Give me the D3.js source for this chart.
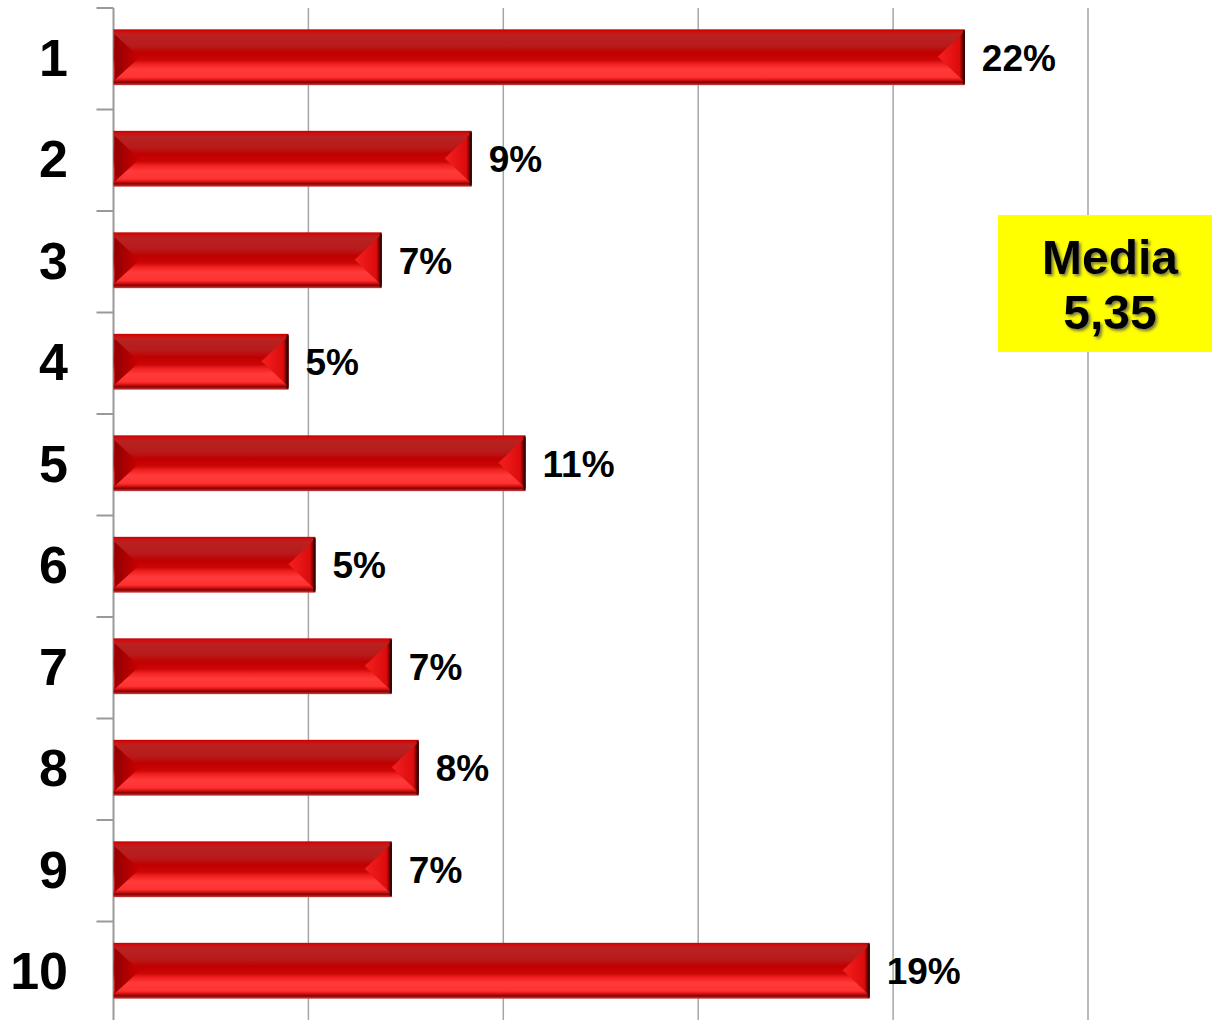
<!DOCTYPE html>
<html><head><meta charset="utf-8">
<script src="https://cdn.jsdelivr.net/npm/d3@7"></script>
<style>html,body{margin:0;padding:0;background:#fff;}svg{display:block;}</style>
</head><body>
<script>
const categories = ["1","2","3","4","5","6","7","8","9","10"];
const values = [21.84, 9.19, 6.88, 4.49, 10.57, 5.18, 7.14, 7.83, 7.14, 19.4];
const valueLabels = ["22%","9%","7%","5%","11%","5%","7%","8%","7%","19%"];
const gridTicks = [5, 10, 15, 20, 25];
const meanLines = ["Media", "5,35"];

const W = 1212, H = 1020;
const svg = d3.select("body").append("svg").attr("width", W).attr("height", H);
const defs = svg.append("defs");

const g1 = defs.append("linearGradient").attr("id","barGrad").attr("x1",0).attr("y1",0).attr("x2",0).attr("y2",1);
[[0,"#c80000"],[0.05,"#d01010"],[0.1,"#b82222"],[0.3,"#b81a1a"],[0.42,"#c00000"],[0.55,"#cc0606"],[0.62,"#f02020"],[0.72,"#ff3a3a"],[0.86,"#ff3232"],[0.9,"#e01818"],[0.95,"#8a0000"],[1,"#c84040"]]
  .forEach(([o,c]) => g1.append("stop").attr("offset",o).attr("stop-color",c));
const g2 = defs.append("linearGradient").attr("id","leftGrad").attr("x1",0).attr("y1",0).attr("x2",1).attr("y2",0);
[[0,"#900000"],[0.5,"#b00000"],[1,"#cc0000"]].forEach(([o,c]) => g2.append("stop").attr("offset",o).attr("stop-color",c));
const g3 = defs.append("linearGradient").attr("id","rightGrad").attr("x1",0).attr("y1",0).attr("x2",1).attr("y2",0);
[[0,"#f52020"],[0.8,"#dc0c0c"],[0.92,"#700000"],[1,"#300000"]].forEach(([o,c]) => g3.append("stop").attr("offset",o).attr("stop-color",c));

const sh = defs.append("filter").attr("id","tshadow").attr("x","-20%").attr("y","-20%").attr("width","140%").attr("height","140%");
sh.append("feDropShadow").attr("dx",2).attr("dy",2).attr("stdDeviation",1.5).attr("flood-color","#555").attr("flood-opacity",0.8);

const x = d3.scaleLinear().domain([0, 25]).range([113.5, 1088]);
const y = d3.scaleBand().domain(categories).range([6.5, 1021.5]).paddingInner(0.45).paddingOuter(0.225);

// gridlines
svg.append("g").selectAll("line").data(gridTicks).join("line")
  .attr("x1", d => x(d)).attr("x2", d => x(d))
  .attr("y1", 8).attr("y2", H)
  .attr("stroke", "#a6a6a6").attr("stroke-width", 1.5);

// axis line + ticks at band boundaries
const step = y.step();
const bounds = d3.range(categories.length + 1).map(i => 8 + i * step);
svg.append("line").attr("x1", x(0)).attr("x2", x(0)).attr("y1", 8).attr("y2", H)
  .attr("stroke", "#999").attr("stroke-width", 2);
svg.append("g").selectAll("line").data(bounds).join("line")
  .attr("x1", x(0) - 17).attr("x2", x(0)).attr("y1", d => d).attr("y2", d => d)
  .attr("stroke", "#999").attr("stroke-width", 2);

// category labels
svg.append("g").selectAll("text").data(categories).join("text")
  .attr("x", 68).attr("y", d => y(d) + y.bandwidth() / 2)
  .attr("dy", "0.36em").attr("text-anchor", "end")
  .attr("font-family", "Liberation Sans, Arial, sans-serif").attr("font-weight", "bold")
  .attr("font-size", 52).attr("fill", "#000").text(d => d);

// bars
const bars = svg.append("g").selectAll("g").data(categories).join("g");
const bh = y.bandwidth();
bars.append("rect")
  .attr("x", x(0)).attr("y", d => y(d))
  .attr("width", (d, i) => x(values[i]) - x(0)).attr("height", bh)
  .attr("fill", "url(#barGrad)");
bars.append("path").attr("fill", "url(#leftGrad)")
  .attr("d", d => {
    const t = y(d) + 5, b = y(d) + bh - 5, x0 = x(0) + 1;
    return `M${x0},${t} L${x0 + 25},${(t + b) / 2} L${x0},${b} Z`;
  });
bars.append("path").attr("fill", "url(#rightGrad)")
  .attr("d", (d, i) => {
    const t = y(d) + 2, b = y(d) + bh - 3, x1 = x(values[i]);
    return `M${x1},${t} L${x1 - 27},${(t + b) / 2} L${x1},${b} Z`;
  });
bars.append("line")
  .attr("x1", (d, i) => x(values[i]) - 1).attr("x2", (d, i) => x(values[i]) - 1)
  .attr("y1", d => y(d) + 1).attr("y2", d => y(d) + bh - 1)
  .attr("stroke", "#3a0000").attr("stroke-width", 2);

// value labels
svg.append("g").selectAll("text").data(categories).join("text")
  .attr("x", (d, i) => x(values[i]) + 17).attr("y", d => y(d) + bh / 2)
  .attr("dy", "0.36em")
  .attr("font-family", "Liberation Sans, Arial, sans-serif").attr("font-weight", "bold")
  .attr("font-size", 37).attr("fill", "#000").text((d, i) => valueLabels[i]);

// mean box
const box = svg.append("g");
box.append("rect").attr("x", 998).attr("y", 215).attr("width", 220).attr("height", 137).attr("fill", "#ffff00");
box.selectAll("text").data(meanLines).join("text")
  .attr("x", 1110).attr("y", (d, i) => 274 + i * 55)
  .attr("text-anchor", "middle")
  .attr("font-family", "Liberation Sans, Arial, sans-serif").attr("font-weight", "bold")
  .attr("font-size", 48).attr("fill", "#000").attr("filter", "url(#tshadow)")
  .text(d => d);
</script>
</body></html>
